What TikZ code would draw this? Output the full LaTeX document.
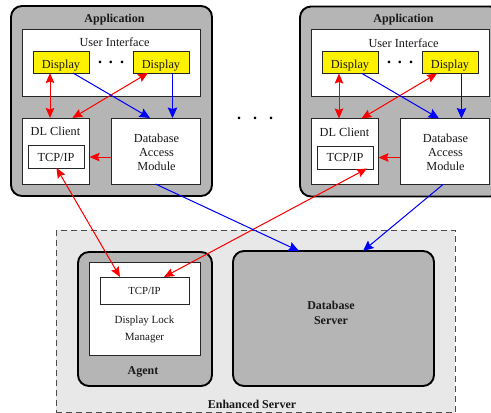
\documentclass[tikz,border=0pt]{standalone}
\usepackage{fontspec}
\setmainfont{Liberation Serif}
\usetikzlibrary{arrows.meta}
\definecolor{appgray}{gray}{0.71}
\definecolor{srvgray}{gray}{0.91}
\definecolor{txt}{gray}{0.1}
\tikzset{
  x=1pt,y=-1pt,
  boxnode/.style={draw=black!85,line width=0.9pt,fill=white,inner sep=0pt,outer sep=0pt,anchor=north west},
  disp/.style={boxnode,fill=yellow,minimum width=56pt,minimum height=22pt,font=\fontsize{12.3}{13}\selectfont,text=txt,text height=12pt,text depth=0pt},
  panel/.style={draw=black,line width=1.9pt,fill=appgray,rounded corners=11pt,inner sep=0pt,outer sep=0pt,anchor=north west},
  lbl/.style={font=\fontsize{12.3}{14.2}\selectfont,text=txt,align=center,inner sep=0pt},
  bold/.style={font=\fontsize{12}{15}\selectfont\bfseries,text=txt,align=center,inner sep=0pt},
  rarrow/.style={draw=red,fill=red,line width=1pt,-{Stealth[length=10pt,width=8.5pt,inset=1.5pt]}},
  rboth/.style={draw=red,fill=red,line width=1pt,{Stealth[length=10pt,width=8.5pt,inset=1.5pt]}-{Stealth[length=10pt,width=8.5pt,inset=1.5pt]}},
  barrow/.style={draw=blue,fill=blue,line width=1pt,-{Stealth[length=10.5pt,width=9.5pt,inset=1.5pt]}},
  dotsnode/.style={font=\fontsize{16}{16}\selectfont\bfseries,inner sep=0pt},
}
\newcommand{\appblock}[2]{%
  \begin{scope}[shift={(#1,#2)}]
    \node[panel,minimum width=201pt,minimum height=190pt] (app#1) at (11,6) {};
    \node[bold] (apptitle#1) at (114.5,19.5) {Application};
    \node[boxnode,minimum width=178pt,minimum height=67pt] (ui#1) at (22,29) {};
    \node[lbl] (uitext#1) at (114.5,42.5) {User Interface};
    \node[disp] (da#1) at (33,51) {Display};
    \node[disp] (db#1) at (133,51) {Display};
    \node[dotsnode] (dots#1) at (111,62) {.\hspace{7pt}.\hspace{7pt}.};
    \node[boxnode,minimum width=67pt,minimum height=66pt] (dl#1) at (22,118) {};
    \node[lbl] (dltext#1) at (55.5,131.5) {DL Client};
    \node[boxnode,minimum width=56pt,minimum height=23pt,font=\fontsize{12.3}{13}\selectfont,text=txt,text height=8pt,text depth=0pt] (tcp#1) at (28,145.5) {TCP/IP};
    \node[boxnode,minimum width=89pt,minimum height=66pt] (dam#1) at (111,118) {};
    \node[lbl] (damtext#1) at (156.5,152) {Database\\Access\\Module};
  \end{scope}
  \draw[rboth] ([xshift=-11pt]da#1.south) -- ([xshift=-11pt]da#1.south |- dl#1.north);
  \draw[rboth] ([xshift=-13pt]db#1.south) -- ([xshift=17pt]dl#1.north);
  \draw[barrow] ([xshift=12pt]da#1.south) -- ([xshift=-5.5pt]dam#1.north);
  \draw[barrow] ([xshift=11.5pt]db#1.south) -- ([xshift=11.5pt]db#1.south |- dam#1.north);
  \draw[rarrow] (dam#1.west |- tcp#1.east) -- ([xshift=0.5pt]dl#1.east |- tcp#1.east);
}
\begin{document}
\begin{tikzpicture}
  \clip (0,0) rectangle (491,413);
  \node[draw=black!70,fill=srvgray,line width=1pt,dash pattern=on 6pt off 4pt,minimum width=399pt,minimum height=182.5pt,inner sep=0pt,outer sep=0pt,anchor=north west] (server) at (56,230) {};
  \node[bold] (servertitle) at (252,404) {Enhanced Server};
  \node[panel,minimum width=134pt,minimum height=134pt] (agent) at (78,252) {};
  \node[bold] (agenttitle) at (143,372) {Agent};
  \node[boxnode,minimum width=111pt,minimum height=93pt] (dlm) at (89,262) {};
  \node[boxnode,minimum width=89pt,minimum height=27pt,font=\fontsize{10.8}{12}\selectfont,text=txt] (stcp) at (100,277) {TCP/IP};
  \node[font=\fontsize{11}{17}\selectfont,text=txt,align=center,inner sep=0pt] (dlmtext) at (144.5,329.5) {Display Lock\\Manager};
  \node[panel,minimum width=201pt,minimum height=135pt] (db) at (233,251) {};
  \node[bold] (dbtext) at (331,313) {Database\\Server};
  \appblock{0}{0}
  \appblock{289}{0.5}
  \node[dotsnode] (middots) at (255,118) {.\hspace{12pt}.\hspace{12pt}.};
  \draw[rboth] ([xshift=0.5pt,yshift=0.5pt]tcp0.south) -- ([xshift=-24.5pt]stcp.north);
  \draw[rboth] ([xshift=-6pt,yshift=0.5pt]tcp289.south east) -- ([xshift=19.5pt]stcp.north);
  \draw[barrow] ([xshift=0pt]dam0.south) -- ([xshift=-34.5pt]db.north);
  \draw[barrow] ([xshift=-1.5pt]dam289.south) -- ([xshift=29.5pt]db.north);
\end{tikzpicture}
\end{document}
